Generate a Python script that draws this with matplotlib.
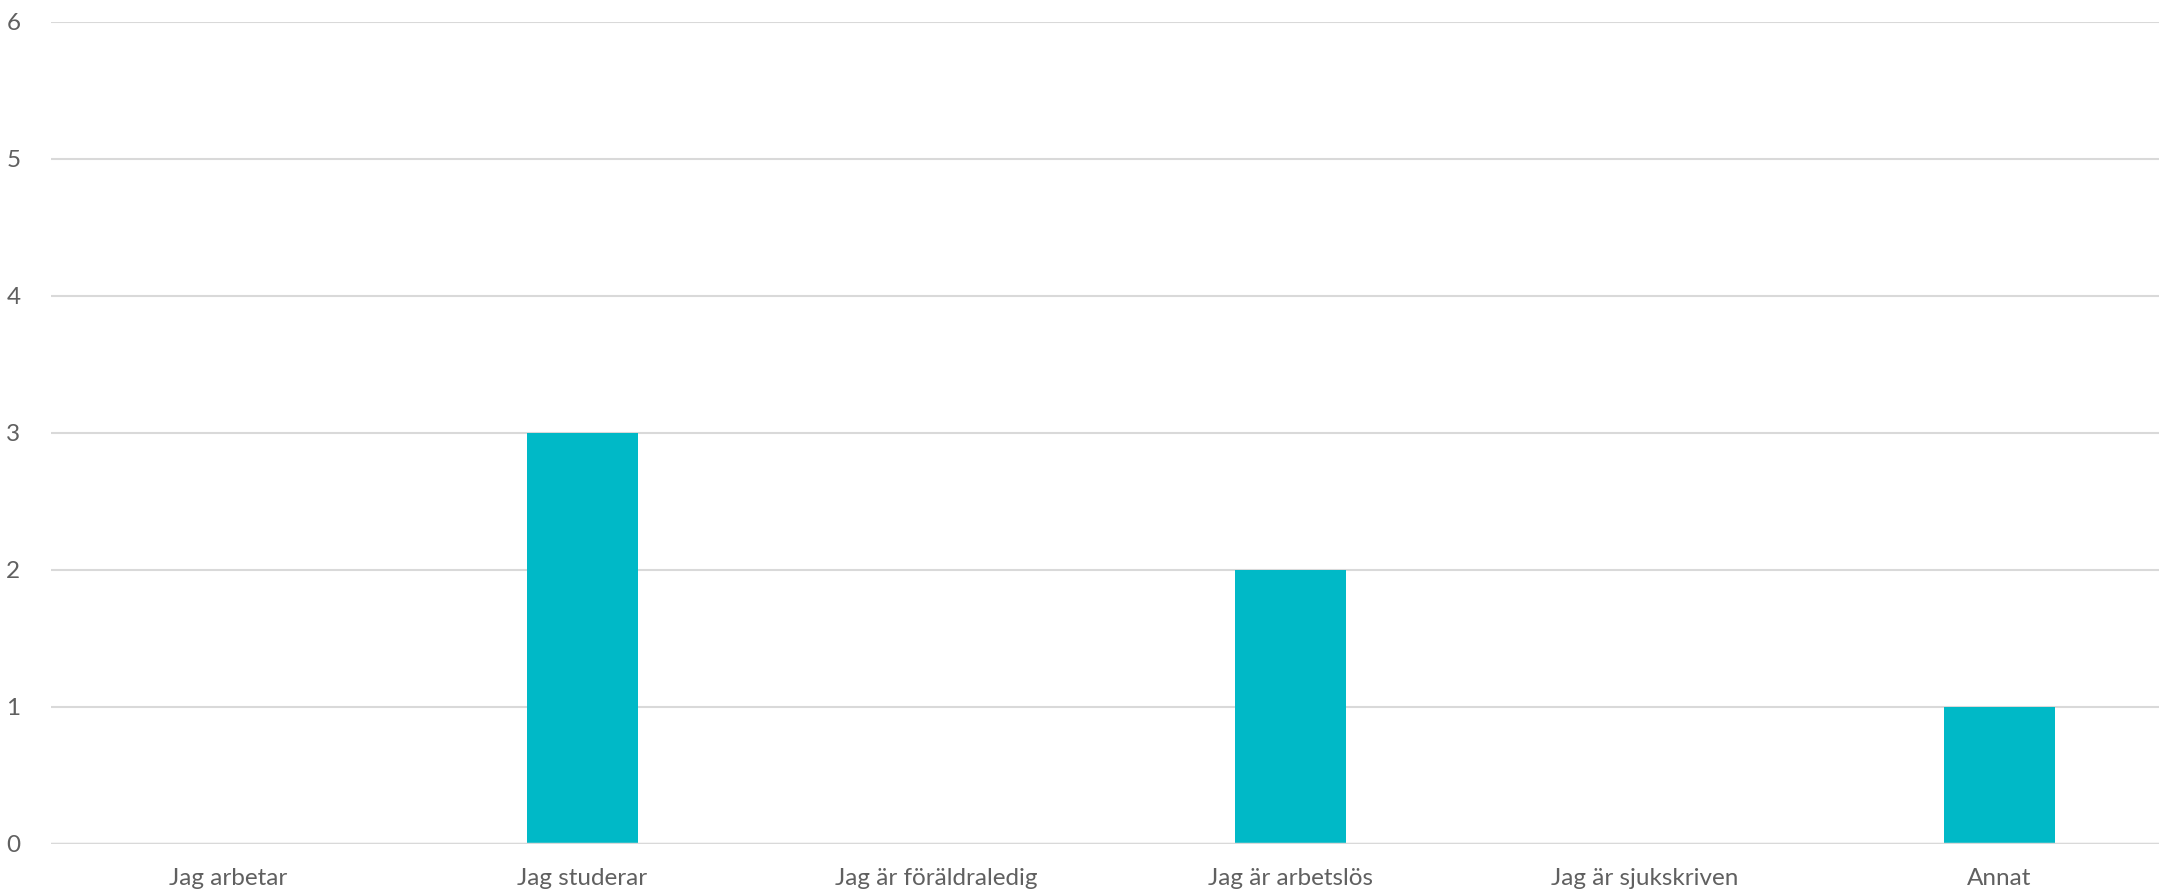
import matplotlib
matplotlib.use('Agg')
import matplotlib.pyplot as plt

# Sysselsättning - antal svar per kategori
kategorier = ['Jag arbetar', 'Jag studerar', 'Jag är föräldraledig',
              'Jag är arbetslös', 'Jag är sjukskriven', 'Annat']
antal = [0, 3, 0, 2, 0, 1]
yticks = [0, 1, 2, 3, 4, 5, 6]

plt.rcParams['font.family'] = ['Lato', 'DejaVu Sans']

fig = plt.figure(figsize=(21.59, 8.90), dpi=100)
ax = fig.add_axes([0.0236, 0.0517, 0.9845, 0.9236])

x = range(len(kategorier))
ax.bar(x, antal, width=0.313, color='#00B9C7', zorder=3)

ax.set_xlim(-0.5, len(kategorier) - 0.5)
ax.set_ylim(0, 6)
ax.set_yticks(yticks)
ax.set_xticks(list(x))
ax.set_xticklabels(kategorier)

ax.grid(axis='y', color='#D9D9D9', linewidth=1.5, zorder=0)
for s in ax.spines.values():
    s.set_visible(False)
ax.axhline(0, color='#D9D9D9', linewidth=2.5, zorder=4)

ax.tick_params(axis='both', length=0, labelsize=17.5, labelcolor='#606060')
ax.tick_params(axis='x', pad=17)
ax.tick_params(axis='y', pad=22)

fig.savefig('out.png', dpi=100)
plt.close()
